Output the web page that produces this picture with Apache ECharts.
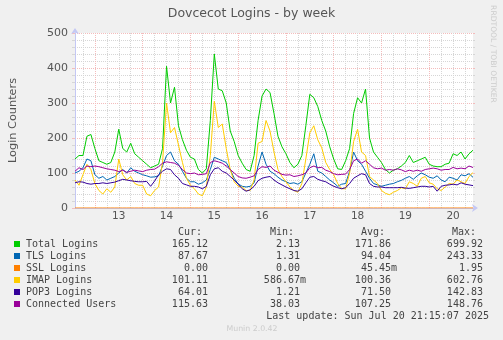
<!DOCTYPE html>
<html>
<head>
<meta charset="utf-8">
<script src="https://cdn.jsdelivr.net/npm/echarts@6/dist/echarts.min.js"></script>
<style>
  html, body { margin: 0; padding: 0; background: #f0f0f0; }
  #chart { width: 503px; height: 340px; }
</style>
</head>
<body>
<div id="chart"></div>
<script>
// Day labels on the x axis, placed at noon of each day
const dayLabels = ['13', '14', '15', '16', '17', '18', '19', '20'];

// Two-hour slots, counted in hours from Sun 13 Jul 00:00 (Sat 12 Jul 14:00 .. Sun 20 Jul 22:00)
const slotHours = [];
for (let h = -10; h <= 190; h += 2) slotHours.push(h);

const totalLogins = [
  140, 150, 150, 205, 210, 170, 135, 130, 125, 130,
  160, 225, 170, 160, 185, 155, 145, 135, 125, 115,
  120, 125, 170, 405, 300, 345, 235, 195, 165, 145,
  140, 110, 100, 112, 250, 440, 340, 335, 300, 220,
  190, 150, 128, 110, 105, 150, 250, 320, 340, 330,
  270, 205, 175, 155, 130, 115, 125, 150, 235, 325,
  315, 290, 250, 220, 175, 140, 112, 110, 135, 170,
  270, 315, 300, 340, 200, 160, 145, 130, 110, 100,
  108, 112, 120, 130, 150, 130, 135, 140, 145, 125,
  120, 118, 118, 125, 128, 155, 150, 160, 140, 155,
  165.12
];

const tlsLogins = [
  100, 105, 115, 140, 135, 95, 85, 90, 80, 85,
  90, 100, 110, 100, 115, 105, 100, 95, 92, 88,
  89, 92, 120, 150, 160, 135, 125, 105, 85, 75,
  75, 68, 72, 80, 110, 145, 140, 135, 130, 110,
  85, 69, 62, 60, 62, 72, 120, 160, 125, 105,
  98, 88, 80, 75, 70, 72, 68, 75, 100, 125,
  155, 105, 100, 90, 80, 72, 62, 68, 70, 105,
  160, 135, 125, 105, 85, 70, 66, 62, 65, 68,
  70, 75, 79, 85, 90, 82, 92, 100, 95, 88,
  85, 92, 80, 75, 88, 85, 80, 95, 92, 98,
  87.67
];

const sslLogins = [
  0, 0, 0, 0, 0, 0, 0, 0, 0, 0,
  0, 0, 0, 0, 0, 0, 0, 0, 0, 0,
  0, 0, 0, 0, 0, 0, 0, 0, 0, 0,
  0, 0, 0, 0, 0, 0, 0, 0, 0, 0,
  0, 0, 0, 0, 0, 0, 0, 0, 0, 0,
  0, 0, 0, 0, 0, 0, 0, 0, 0, 0,
  0, 0, 0, 0, 0, 0, 0, 0, 0, 0,
  0, 0, 0, 0, 0, 0, 0, 0, 0, 0,
  0, 0, 0, 0, 0, 0, 0, 0, 0, 0,
  0, 0, 0, 0, 0, 0, 0, 0, 0, 0,
  0
];

const imapLogins = [
  80, 65, 95, 125, 110, 70, 50, 40, 55, 45,
  60, 140, 95, 80, 90, 70, 65, 65, 40, 35,
  50, 60, 130, 300, 215, 230, 180, 130, 85, 65,
  55, 40, 35, 60, 150, 305, 230, 240, 170, 110,
  75, 62, 60, 50, 50, 80, 185, 190, 250, 220,
  160, 110, 90, 75, 60, 50, 45, 70, 140, 215,
  235, 195, 172, 130, 110, 95, 70, 55, 55, 100,
  190, 225, 160, 150, 90, 80, 70, 50, 42, 38,
  45, 50, 58, 55, 75, 70, 62, 85, 90, 72,
  68, 55, 50, 60, 70, 68, 80, 75, 70, 90,
  101.11
];

const pop3Logins = [
  72, 75, 74, 70, 68, 70, 70, 72, 70, 72,
  74, 78, 82, 80, 78, 76, 75, 75, 76, 62,
  77, 95, 105, 112, 110, 95, 85, 70, 66, 62,
  62, 60, 55, 62, 95, 112, 115, 105, 100, 90,
  80, 68, 55, 48, 52, 62, 78, 85, 88, 90,
  80, 72, 66, 60, 55, 50, 48, 55, 72, 88,
  90, 82, 78, 75, 68, 62, 58, 55, 58, 70,
  85, 92, 98, 95, 70, 62, 60, 60, 58, 58,
  58, 58, 59, 57, 56, 58, 60, 62, 62, 60,
  62, 48, 62, 65, 66, 68, 66, 72, 68, 66,
  64.01
];

const connectedUsers = [
  105, 115, 110, 120, 118, 120, 118, 115, 112, 110,
  108, 104, 108, 102, 105, 108, 106, 104, 108, 110,
  111, 118, 128, 132, 130, 128, 122, 110, 100, 98,
  100, 95, 96, 98, 130, 135, 132, 128, 120, 110,
  100, 90, 86, 85, 88, 92, 110, 118, 116, 120,
  108, 102, 96, 94, 95, 90, 92, 95, 100, 115,
  120, 115, 116, 108, 104, 98, 95, 96, 97, 110,
  135, 140, 128, 135, 125, 115, 112, 114, 108, 110,
  108, 112, 109, 104, 108, 105, 108, 105, 110, 112,
  114, 112, 108, 110, 110, 116, 112, 114, 112, 120,
  115.63
];

// Legend table
const seriesNames = ['Total Logins', 'TLS Logins', 'SSL Logins', 'IMAP Logins', 'POP3 Logins', 'Connected Users'];
const seriesColors = ['#00cc00', '#0066b3', '#ff8000', '#ffcc00', '#330099', '#990099'];
const curValues = ['165.12', '87.67', '0.00', '101.11', '64.01', '115.63'];
const minValues = ['2.13', '1.31', '0.00', '586.67m', '1.21', '38.03'];
const avgValues = ['171.86', '94.04', '45.45m', '100.36', '71.50', '107.25'];
const maxValues = ['699.92', '243.33', '1.95', '602.76', '142.83', '148.76'];
const columnHeads = ['Cur:', 'Min:', 'Avg:', 'Max:'];

const seriesData = [totalLogins, tlsLogins, sslLogins, imapLogins, pop3Logins, connectedUsers];

const MONO = "'DejaVu Sans Mono', monospace";
const SANS = "'DejaVu Sans', sans-serif";
const TEXT_COLOR = '#555555';
const MAJOR_GRID = '#f4bcbc';
const MINOR_GRID = '#d6d6d6';
const AXIS_BLUE = '#c4c8f4';

const chart = echarts.init(document.getElementById('chart'), null, { renderer: 'canvas' });

const hourLabel = v => Number(v);
const categories = slotHours.map(String);

// stats table text
const graphics = [];
const colRight = [214, 306, 397, 489];
const headRight = [202, 294, 385, 476];
columnHeads.forEach((t, c) => {
  graphics.push({ type: 'text', x: headRight[c], y: 232,
    style: { text: t, font: '10px ' + MONO, fill: '#444', align: 'right', verticalAlign: 'middle' } });
});
[curValues, minValues, avgValues, maxValues].forEach((col, c) => {
  col.forEach((v, r) => {
    const txt = /m$/.test(v) ? v : v + ' ';
    graphics.push({ type: 'text', x: colRight[c], y: 244 + 12 * r,
      style: { text: txt, font: '10px ' + MONO, fill: '#444', align: 'right', verticalAlign: 'middle' } });
  });
});
graphics.push({ type: 'text', x: 489, y: 316,
  style: { text: 'Last update: Sun Jul 20 21:15:07 2025', font: '10px ' + MONO, fill: '#444', align: 'right', verticalAlign: 'middle' } });
graphics.push({ type: 'text', x: 251.5, y: 14,
  style: { text: 'Dovcecot Logins - by week', font: '12.5px ' + SANS, fill: TEXT_COLOR, align: 'center', verticalAlign: 'middle' } });
graphics.push({ type: 'text', x: 252, y: 329,
  style: { text: 'Munin 2.0.42', font: '7.8px ' + SANS, fill: '#cccccc', align: 'center', verticalAlign: 'middle' } });
graphics.push({ type: 'text', x: 493, y: 54, rotation: -Math.PI / 2,
  style: { text: 'RRDTOOL / TOBI OETIKER', font: '7.6px ' + SANS, fill: '#cccccc', align: 'center', verticalAlign: 'middle' } });

const option = {
  backgroundColor: '#f0f0f0',
  animation: false,
  grid: { left: 73, top: 33, width: 400, height: 175, show: true, backgroundColor: '#ffffff', borderWidth: 0 },
  legend: {
    orient: 'vertical', left: 14, top: 238, itemWidth: 6, itemHeight: 6, itemGap: 0,
    icon: 'rect', selectedMode: false, padding: 0,
    data: seriesNames,
    textStyle: { fontFamily: MONO, fontSize: 10, color: '#444', lineHeight: 12, padding: [0, 0, 0, 1] }
  },
  xAxis: [
    {
      type: 'category', data: categories, boundaryGap: false, position: 'bottom',
      axisLine: { show: true, lineStyle: { color: AXIS_BLUE, width: 1 }, symbol: ['none', 'arrow'], symbolSize: [6, 6], symbolOffset: [0, 5] },
      axisTick: { show: false },
      axisLabel: {
        interval: (i, v) => ((hourLabel(v) % 24) + 24) % 24 === 12,
        formatter: v => dayLabels[(hourLabel(v) - 12) / 24],
        color: TEXT_COLOR, fontSize: 10.5, fontFamily: SANS, margin: 3
      },
      splitLine: { show: true, interval: (i, v) => hourLabel(v) % 6 === 0 && hourLabel(v) % 24 !== 0,
        lineStyle: { color: MINOR_GRID, type: [1, 1], width: 1 } }
    },
    {
      type: 'category', data: categories, boundaryGap: false, position: 'bottom',
      axisLine: { show: false }, axisTick: { show: false }, axisLabel: { show: false },
      splitLine: { show: true, interval: (i, v) => hourLabel(v) % 24 === 0,
        lineStyle: { color: MAJOR_GRID, type: [1, 1], width: 1 } }
    }
  ],
  yAxis: [
    {
      type: 'value', min: 0, max: 500, interval: 100, position: 'left',
      name: 'Login Counters', nameLocation: 'middle', nameGap: 56,
      nameTextStyle: { color: TEXT_COLOR, fontSize: 11.3, fontFamily: SANS },
      axisLine: { show: true, lineStyle: { color: AXIS_BLUE, width: 1 }, symbol: ['none', 'arrow'], symbolSize: [6, 6], symbolOffset: [0, 5] },
      axisTick: { show: true, length: 3, lineStyle: { color: MAJOR_GRID } },
      minorTick: { show: true, splitNumber: 5, length: 3, lineStyle: { color: MINOR_GRID } },
      axisLabel: { color: TEXT_COLOR, fontSize: 11, fontFamily: SANS, margin: 7 },
      splitLine: { show: true, lineStyle: { color: MAJOR_GRID, type: [1, 1], width: 1 } },
      minorSplitLine: { show: true, lineStyle: { color: MINOR_GRID, type: [1, 1], width: 1 } }
    },
    {
      type: 'value', min: 0, max: 500, interval: 100, position: 'right',
      axisLine: { show: false }, axisLabel: { show: false }, splitLine: { show: false },
      axisTick: { show: true, length: 2, lineStyle: { color: MAJOR_GRID } },
      minorTick: { show: true, splitNumber: 5, length: 2, lineStyle: { color: MINOR_GRID } }
    }
  ],
  series: seriesNames.map((name, k) => ({
    name, type: 'line', data: seriesData[k], xAxisIndex: 0, yAxisIndex: 0,
    color: seriesColors[k], showSymbol: false, symbol: 'none', silent: true,
    lineStyle: { width: 1, color: seriesColors[k] }, z: 3 + k
  })),
  graphic: graphics
};

chart.setOption(option);
</script>
</body>
</html>
